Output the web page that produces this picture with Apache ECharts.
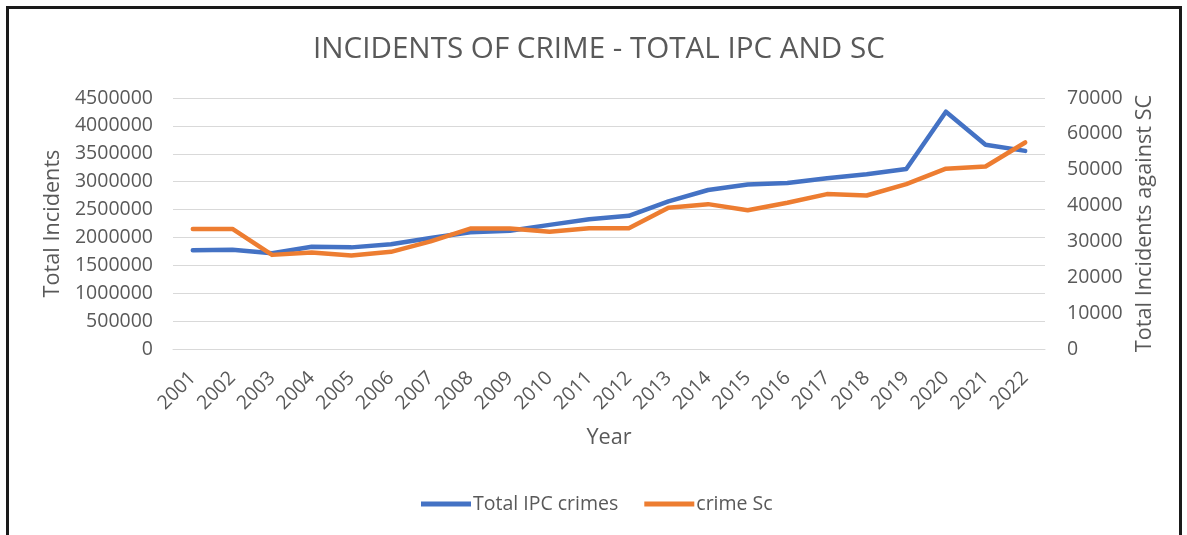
<!DOCTYPE html>
<html>
<head>
<meta charset="utf-8">
<script src="https://cdn.jsdelivr.net/npm/echarts@6/dist/echarts.min.js"></script>
<style>
  html, body { margin: 0; padding: 0; background: #fff; }
  #chart { position: absolute; left: 0; top: 0; width: 1187px; height: 535px; }
  #frame { position: absolute; left: 6px; top: 6px; width: 1176px; height: 540px;
           border-left: 3px solid #1a1a1a; border-top: 3px solid #1a1a1a; border-right: 3px solid #1a1a1a;
           box-sizing: border-box; pointer-events: none; }
</style>
</head>
<body>
<div id="chart"></div>
<div id="frame"></div>
<script>
const years = ['2001','2002','2003','2004','2005','2006','2007','2008','2009','2010','2011','2012','2013','2014','2015','2016','2017','2018','2019','2020','2021','2022'];
const totalIPC = [1769000,1780000,1716000,1832000,1822000,1878000,1990000,2093000,2121000,2225000,2325000,2387000,2648000,2851000,2949000,2976000,3063000,3133000,3226000,4254000,3663000,3552000];
const crimeSC = [33500,33500,26250,26900,26100,27100,30000,33600,33600,32700,33700,33650,39400,40400,38700,40800,43200,42800,46000,50300,50900,57600];
const seriesNames = ['Total IPC crimes','crime Sc'];

const FONT = '"Open Sans", sans-serif';
const GREY = '#595959';
const plain = v => String(v);
const chart = echarts.init(document.getElementById('chart'), null, {renderer: 'canvas'});
chart.setOption({
  animation: false,
  backgroundColor: '#ffffff',
  title: {
    text: 'INCIDENTS OF CRIME - TOTAL IPC AND SC',
    left: 308, top: 30,
    textStyle: { fontFamily: FONT, fontSize: 29.6, fontWeight: 'normal', color: GREY }
  },
  legend: {
    data: seriesNames,
    left: 416, top: 489,
    icon: 'rect', itemWidth: 50, itemHeight: 5, itemGap: 26,
    textStyle: { fontFamily: FONT, fontSize: 19.5, color: GREY, padding: [0,0,0,-3] }
  },
  grid: { left: 173, right: 142, top: 98, bottom: 186, containLabel: false },
  xAxis: {
    type: 'category', data: years, boundaryGap: true,
    name: 'Year', nameLocation: 'middle', nameGap: 78,
    nameTextStyle: { fontFamily: FONT, fontSize: 21.7, color: GREY },
    axisLine: { show: true, lineStyle: { color: '#d9d9d9', width: 1 } },
    axisTick: { show: false },
    axisLabel: { rotate: 45, margin: 26, fontFamily: FONT, fontSize: 19.5, color: GREY, interval: 0 }
  },
  yAxis: [
    {
      type: 'value', min: 0, max: 4500000, interval: 500000,
      name: 'Total Incidents', nameLocation: 'middle', nameGap: 98, nameRotate: 90,
      nameTextStyle: { fontFamily: FONT, fontSize: 21.7, color: GREY },
      axisLine: { show: false }, axisTick: { show: false },
      axisLabel: { margin: 20, fontFamily: FONT, fontSize: 19.5, color: GREY, formatter: plain },
      splitLine: { show: true, lineStyle: { color: '#d9d9d9', width: 1 } }
    },
    {
      type: 'value', min: 0, max: 70000, interval: 10000, position: 'right',
      name: 'Total Incidents against SC', nameLocation: 'middle', nameGap: 88, nameRotate: 90,
      nameTextStyle: { fontFamily: FONT, fontSize: 21.7, color: GREY },
      axisLine: { show: false }, axisTick: { show: false },
      axisLabel: { margin: 22, fontFamily: FONT, fontSize: 19.5, color: GREY, formatter: plain },
      splitLine: { show: false }
    }
  ],
  series: [
    {
      name: seriesNames[0], type: 'line', data: totalIPC, yAxisIndex: 0,
      showSymbol: false, symbol: 'none',
      lineStyle: { color: '#4472C4', width: 4.5, join: 'round', cap: 'round' },
      itemStyle: { color: '#4472C4' }
    },
    {
      name: seriesNames[1], type: 'line', data: crimeSC, yAxisIndex: 1,
      showSymbol: false, symbol: 'none',
      lineStyle: { color: '#ED7D31', width: 4.5, join: 'round', cap: 'round' },
      itemStyle: { color: '#ED7D31' }
    }
  ]
});
</script>
</body>
</html>
